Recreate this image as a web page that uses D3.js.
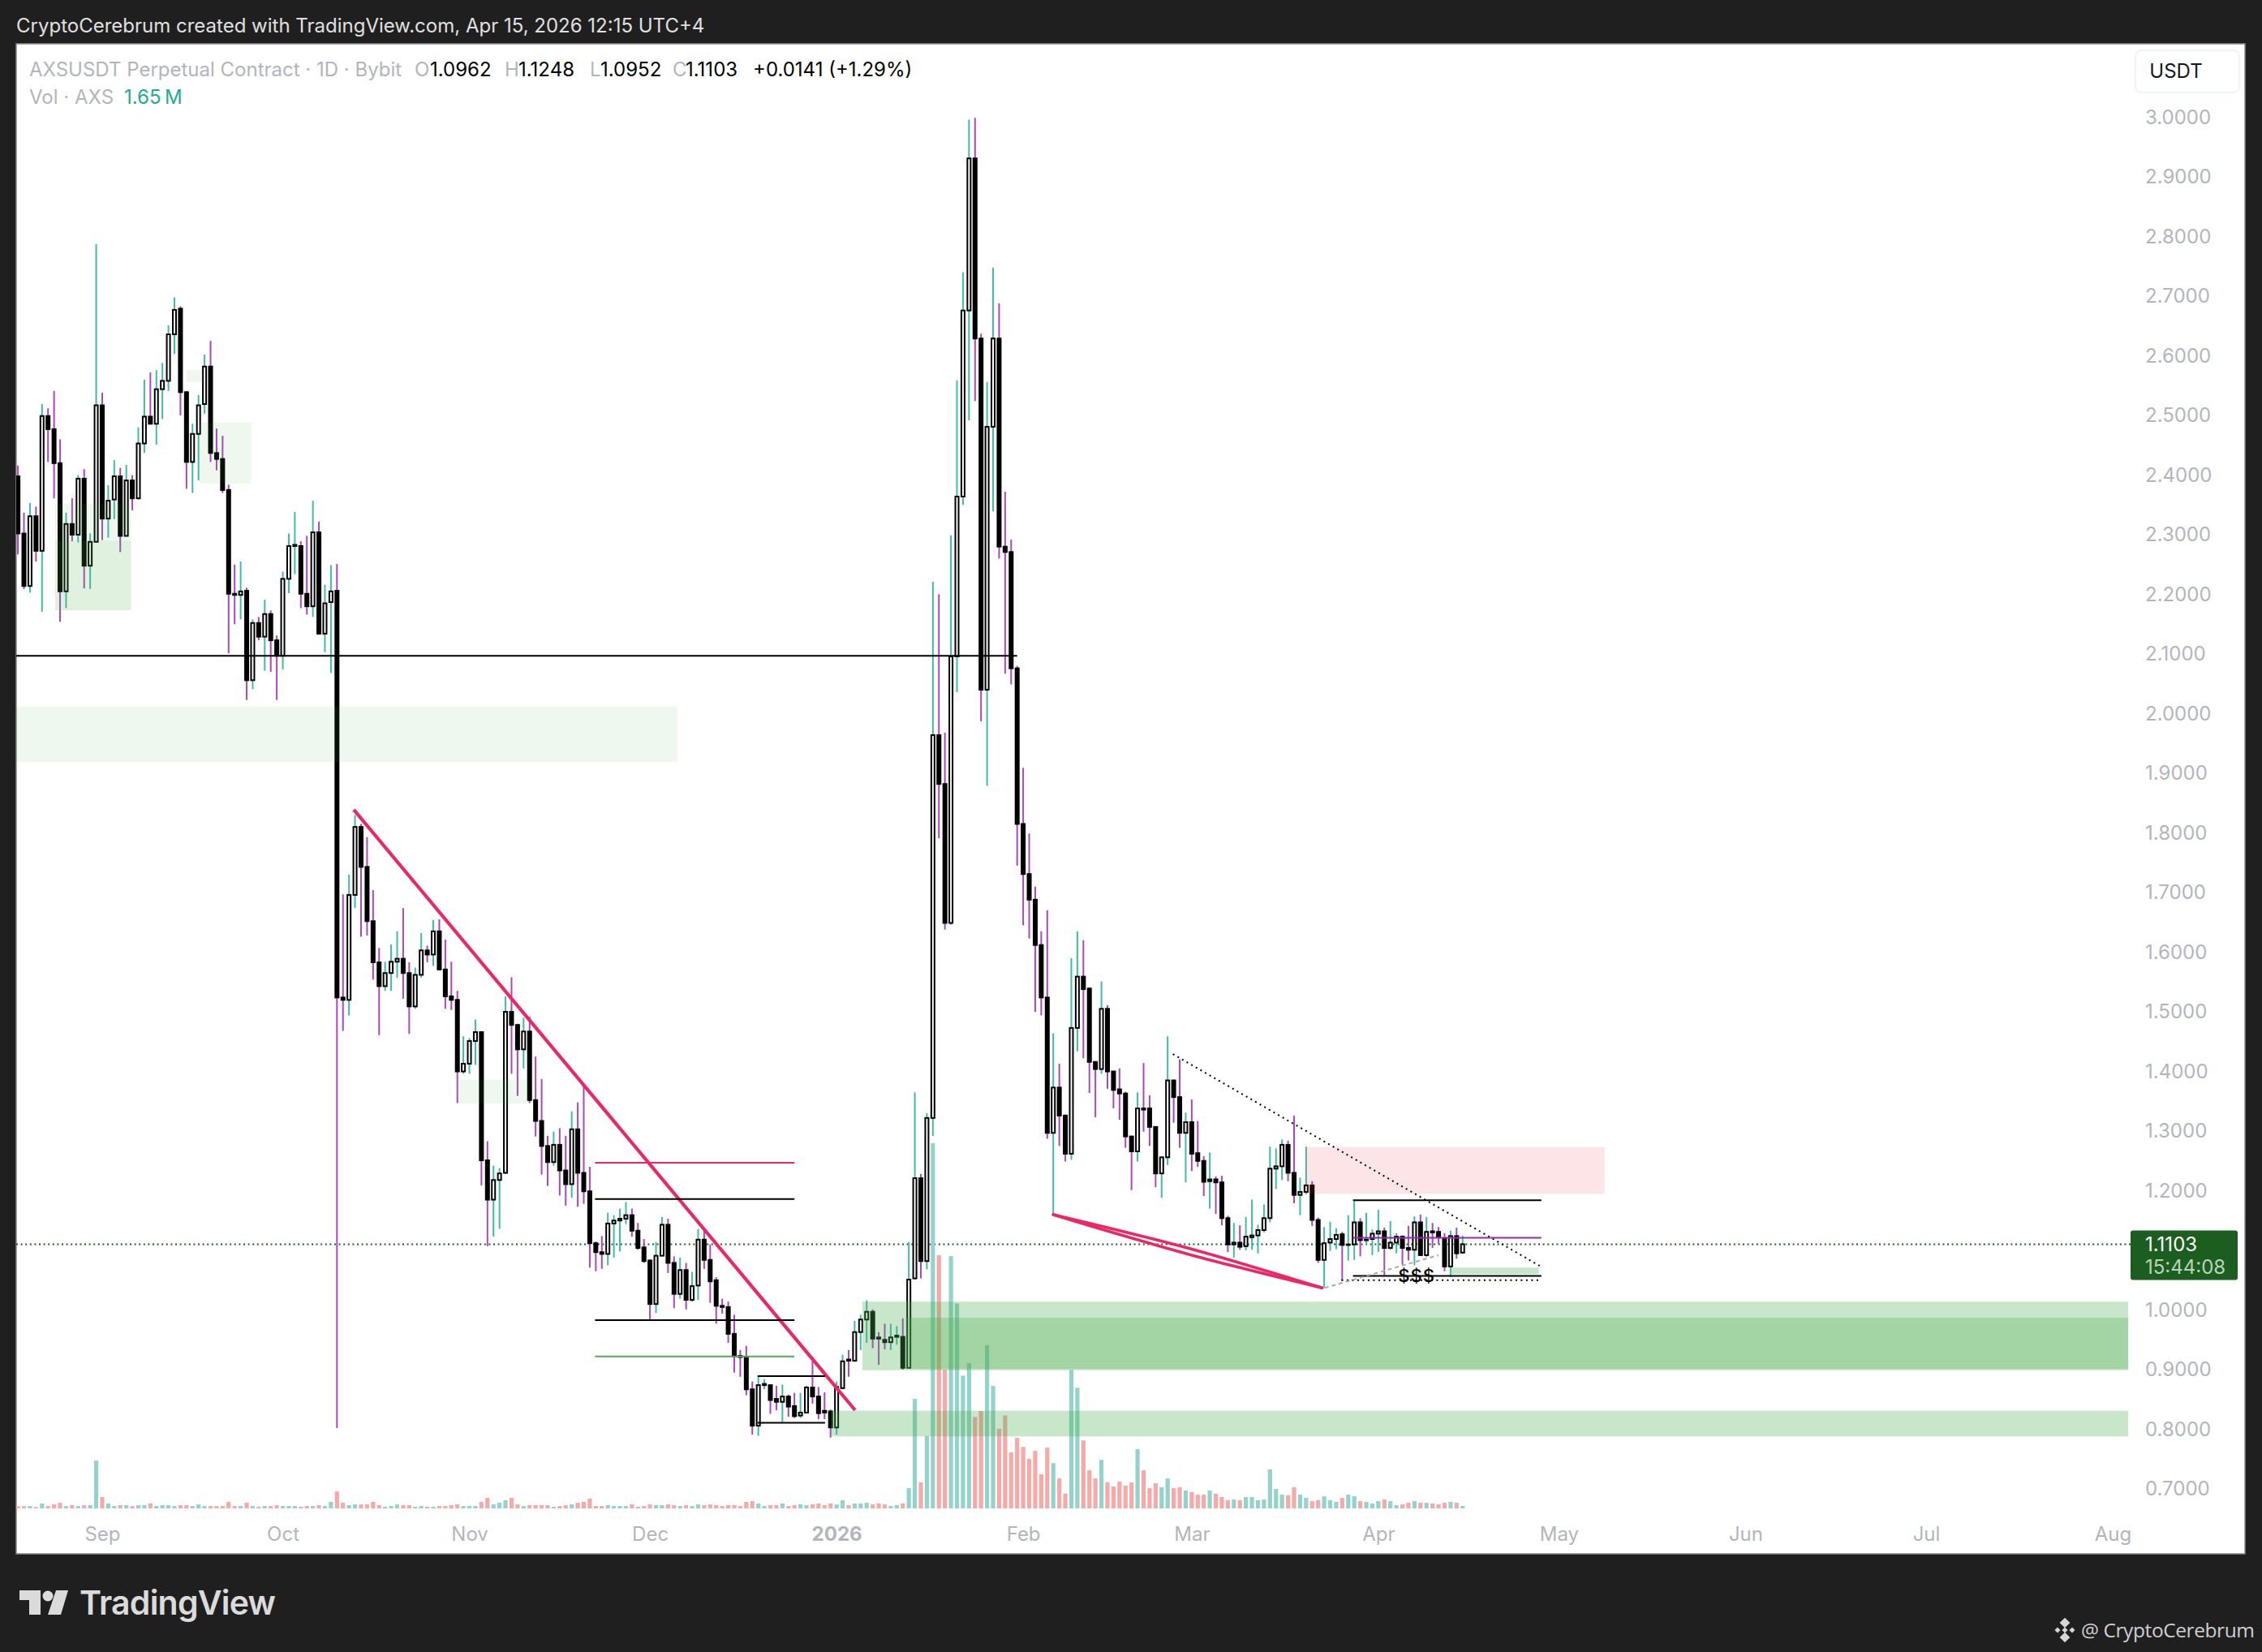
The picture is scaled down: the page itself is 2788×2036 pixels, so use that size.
<!DOCTYPE html>
<html>
<head>
<meta charset="utf-8">
<script src="https://cdn.jsdelivr.net/npm/d3@7/dist/d3.min.js"></script>
<style>
  html, body { margin: 0; padding: 0; background: #1f1f1f; }
  svg { display: block; }
  text { font-family: Inter, "Noto Sans", sans-serif; }
</style>
</head>
<body>
<div class="canvas"></div>
<script>
// daily candles, Aug 18 2025 to Apr 15 2026
const firstDay = new Date(Date.UTC(2025, 7, 18));

const opens = [
  2.398,2.302,2.214,2.331,2.273,2.499,2.477,2.420,2.205,2.318,
  2.300,2.394,2.248,2.288,2.517,2.327,2.359,2.398,2.298,2.391,
  2.361,2.453,2.498,2.486,2.544,2.558,2.636,2.679,2.539,2.422,
  2.469,2.519,2.582,2.437,2.427,2.375,2.201,2.199,2.206,2.056,
  2.152,2.129,2.167,2.123,2.097,2.226,2.281,2.281,2.201,2.180,
  2.304,2.134,2.187,2.206,1.524,1.520,1.696,1.810,1.743,1.652,
  1.583,1.543,1.565,1.584,1.589,1.565,1.509,1.562,1.603,1.596,
  1.635,1.571,1.526,1.520,1.400,1.413,1.451,1.466,1.251,1.185,
  1.218,1.230,1.500,1.478,1.437,1.467,1.352,1.317,1.275,1.248,
  1.277,1.234,1.211,1.303,1.230,1.199,1.112,1.097,1.094,1.145,
  1.150,1.153,1.159,1.133,1.105,1.083,1.010,1.091,1.143,1.079,
  1.027,1.067,1.017,1.041,1.118,1.084,1.050,1.007,1.005,0.960,
  0.923,0.921,0.867,0.806,0.874,0.874,0.851,0.846,0.855,0.839,
  0.823,0.828,0.870,0.855,0.831,0.830,0.803,0.869,0.917,0.915,
  0.963,0.984,0.997,0.954,0.950,0.946,0.955,0.955,0.903,1.053,
  1.221,1.082,1.322,1.964,1.882,1.649,2.096,2.364,2.676,2.931,
  2.629,2.040,2.481,2.629,2.280,2.271,2.076,1.815,1.731,1.688,
  1.612,1.524,1.297,1.373,1.326,1.262,1.473,1.559,1.539,1.416,
  1.404,1.505,1.400,1.370,1.363,1.291,1.266,1.338,1.338,1.307,
  1.229,1.256,1.385,1.357,1.297,1.315,1.263,1.250,1.216,1.219,
  1.214,1.154,1.110,1.113,1.107,1.122,1.125,1.134,1.154,1.237,
  1.241,1.277,1.230,1.193,1.198,1.209,1.151,1.084,1.113,1.119,
  1.127,1.109,1.110,1.147,1.117,1.119,1.128,1.132,1.104,1.113,
  1.123,1.104,1.101,1.147,1.092,1.132,1.131,1.120,1.073,1.124,
  1.0962
];
const highs = [
  2.416,2.337,2.353,2.347,2.519,2.512,2.541,2.460,2.337,2.361,
  2.400,2.410,2.302,2.787,2.538,2.383,2.425,2.412,2.417,2.400,
  2.480,2.560,2.572,2.576,2.588,2.651,2.698,2.683,2.541,2.486,
  2.534,2.602,2.625,2.478,2.466,2.384,2.250,2.255,2.211,2.158,
  2.162,2.191,2.173,2.131,2.238,2.302,2.338,2.289,2.298,2.357,
  2.322,2.216,2.249,2.251,1.697,1.730,1.830,1.815,1.793,1.704,
  1.607,1.584,1.613,1.635,1.674,1.583,1.574,1.632,1.611,1.654,
  1.655,1.621,1.584,1.535,1.459,1.456,1.487,1.467,1.283,1.242,
  1.238,1.526,1.558,1.480,1.490,1.492,1.425,1.387,1.292,1.299,
  1.305,1.292,1.333,1.348,1.379,1.240,1.115,1.124,1.163,1.159,
  1.170,1.181,1.170,1.146,1.119,1.085,1.114,1.156,1.153,1.090,
  1.088,1.079,1.064,1.136,1.133,1.110,1.055,1.019,1.014,0.992,
  0.933,0.940,0.880,0.888,0.884,0.875,0.873,0.875,0.858,0.861,
  0.861,0.873,0.914,0.871,0.862,0.833,0.880,0.925,0.933,0.982,
  0.992,1.016,1.001,0.963,0.977,0.977,0.973,0.986,1.114,1.365,
  1.228,1.330,2.221,2.200,1.968,2.299,2.559,2.740,2.996,2.999,
  2.637,2.556,2.748,2.688,2.372,2.292,2.080,1.909,1.799,1.710,
  1.635,1.670,1.464,1.413,1.328,1.590,1.635,1.620,1.541,1.416,
  1.551,1.511,1.400,1.405,1.366,1.292,1.365,1.414,1.360,1.308,
  1.258,1.459,1.386,1.420,1.331,1.353,1.317,1.258,1.264,1.224,
  1.225,1.158,1.146,1.142,1.156,1.185,1.143,1.177,1.274,1.271,
  1.286,1.284,1.326,1.222,1.274,1.216,1.155,1.139,1.148,1.137,
  1.131,1.159,1.184,1.154,1.163,1.135,1.168,1.138,1.149,1.129,
  1.125,1.141,1.157,1.160,1.156,1.146,1.139,1.129,1.133,1.138,
  1.1248
];
const lows = [
  2.267,2.209,2.203,2.255,2.171,2.422,2.361,2.154,2.177,2.289,
  2.287,2.210,2.209,2.287,2.291,2.295,2.326,2.271,2.297,2.341,
  2.359,2.437,2.485,2.451,2.494,2.541,2.603,2.500,2.377,2.370,
  2.391,2.503,2.422,2.408,2.370,2.101,2.150,2.158,2.023,2.041,
  2.123,2.072,2.070,2.023,2.074,2.202,2.234,2.177,2.166,2.162,
  2.133,2.103,2.068,0.802,1.468,1.494,1.674,1.626,1.628,1.554,
  1.461,1.535,1.535,1.557,1.522,1.463,1.505,1.557,1.583,1.577,
  1.570,1.505,1.503,1.347,1.396,1.396,1.411,1.209,1.107,1.123,
  1.136,1.228,1.396,1.359,1.405,1.347,1.291,1.227,1.208,1.242,
  1.192,1.175,1.188,1.173,1.178,1.071,1.065,1.069,1.075,1.088,
  1.098,1.144,1.123,1.101,1.079,0.984,0.995,1.090,1.062,1.003,
  1.019,1.001,1.014,1.017,1.069,1.012,0.977,0.994,0.945,0.895,
  0.888,0.857,0.791,0.789,0.867,0.826,0.832,0.812,0.821,0.819,
  0.819,0.827,0.843,0.817,0.817,0.786,0.791,0.867,0.888,0.913,
  0.933,0.945,0.936,0.908,0.934,0.933,0.942,0.900,0.902,1.051,
  1.053,1.068,1.292,1.791,1.638,1.646,2.036,2.350,2.492,2.524,
  1.987,1.879,2.339,2.260,2.067,2.049,1.745,1.645,1.623,1.500,
  1.494,1.287,1.161,1.275,1.249,1.252,1.434,1.422,1.364,1.323,
  1.396,1.371,1.338,1.319,1.272,1.201,1.249,1.299,1.275,1.206,
  1.188,1.243,1.314,1.272,1.214,1.233,1.240,1.191,1.170,1.161,
  1.142,1.097,1.088,1.101,1.100,1.101,1.095,1.130,1.147,1.203,
  1.218,1.216,1.179,1.159,1.194,1.141,1.079,1.038,1.099,1.102,
  1.049,1.083,1.084,1.090,1.110,1.092,1.097,1.057,1.101,1.095,
  1.076,1.083,1.075,1.091,1.089,1.104,1.110,1.065,1.055,1.086,
  1.0952
];
const closes = [
  2.302,2.214,2.331,2.273,2.499,2.477,2.420,2.205,2.318,2.300,
  2.394,2.248,2.288,2.517,2.327,2.357,2.398,2.298,2.391,2.361,
  2.453,2.498,2.486,2.544,2.558,2.636,2.677,2.539,2.422,2.469,
  2.517,2.582,2.437,2.427,2.375,2.201,2.199,2.205,2.056,2.152,
  2.129,2.167,2.123,2.097,2.226,2.281,2.283,2.201,2.180,2.304,
  2.134,2.185,2.205,1.524,1.520,1.696,1.810,1.743,1.652,1.583,
  1.543,1.565,1.584,1.589,1.565,1.509,1.562,1.603,1.596,1.635,
  1.571,1.526,1.520,1.400,1.413,1.451,1.466,1.251,1.185,1.218,
  1.229,1.500,1.478,1.437,1.467,1.352,1.317,1.275,1.248,1.277,
  1.234,1.211,1.303,1.230,1.199,1.112,1.097,1.094,1.145,1.150,
  1.153,1.159,1.133,1.104,1.082,1.010,1.091,1.143,1.079,1.027,
  1.067,1.017,1.040,1.118,1.084,1.048,1.007,1.005,0.960,0.922,
  0.921,0.867,0.806,0.874,0.876,0.849,0.846,0.855,0.838,0.822,
  0.828,0.870,0.855,0.827,0.828,0.803,0.871,0.914,0.915,0.963,
  0.984,0.997,0.952,0.952,0.946,0.954,0.957,0.903,1.051,1.221,
  1.082,1.322,1.964,1.882,1.649,2.096,2.364,2.676,2.931,2.629,
  2.040,2.481,2.629,2.280,2.271,2.076,1.815,1.731,1.688,1.612,
  1.524,1.297,1.373,1.326,1.262,1.473,1.559,1.538,1.416,1.404,
  1.505,1.400,1.369,1.363,1.291,1.266,1.338,1.336,1.307,1.229,
  1.256,1.385,1.357,1.297,1.315,1.262,1.250,1.215,1.219,1.214,
  1.154,1.110,1.113,1.106,1.123,1.125,1.134,1.154,1.237,1.241,
  1.277,1.230,1.193,1.198,1.209,1.151,1.084,1.112,1.119,1.126,
  1.109,1.110,1.147,1.117,1.118,1.128,1.132,1.104,1.113,1.123,
  1.104,1.101,1.147,1.092,1.131,1.130,1.122,1.073,1.124,1.095,
  1.1103
];
// volume in millions of AXS
const volumes = [
  1.5,1.5,1.6,0.9,3.3,1.6,2.7,3.8,1.6,2.2,
  1.6,2.2,2.2,32.4,7.7,3.3,1.6,2.2,2.2,1.6,
  2.2,2.2,3.3,1.6,2.2,2.2,1.6,2.2,2.2,1.6,
  2.7,1.6,1.6,1.6,1.6,4.4,1.6,1.6,3.8,1.6,
  1.1,1.6,1.6,2.2,1.6,1.6,1.6,1.1,1.6,1.6,
  2.2,1.6,4.4,11.5,3.8,2.2,2.7,2.7,2.7,4.4,
  2.2,1.1,1.6,2.7,2.2,2.2,1.1,1.6,1.1,1.1,
  1.6,1.6,2.2,2.7,1.6,1.6,1.6,4.4,7.1,2.7,
  3.8,5.5,7.1,2.7,1.6,2.2,2.2,2.2,2.2,1.1,
  1.6,2.2,2.7,3.8,4.4,6.6,1.6,1.6,2.2,1.6,
  1.6,1.6,2.7,1.1,1.6,2.7,2.2,2.2,2.7,2.2,
  1.6,2.2,1.6,2.7,2.2,2.7,2.2,1.6,2.2,2.2,
  1.6,4.4,4.9,3.3,1.6,2.2,2.2,3.3,1.6,2.2,
  2.7,2.2,2.7,3.3,2.2,3.3,2.7,5.5,2.2,3.3,
  3.3,3.8,2.7,3.3,2.7,1.6,2.2,3.3,13.7,74.2,
  17.6,49,247.5,171.6,94,171,139,90,98.5,62,
  66,110.6,83,54,63,37.9,47.8,41.7,33.5,39,
  23.1,41.2,30.7,20.3,9.9,93.9,81.8,46.1,25.8,20.3,
  32.9,17.6,14.8,18.1,15.4,17.6,40.1,25.8,13.7,17,
  14.3,20.3,13.7,14.3,12.1,11,9.3,9.3,12.1,9.9,
  7.7,5.5,6,5.5,7.7,7.7,5.5,6,26.4,13.2,
  9.3,8.8,14.3,9.3,7.1,4.9,5.5,8.2,5.5,4.4,
  7.1,9.3,8.2,4.9,4.4,3.3,4.9,6,4.9,2.2,
  2.7,3.8,4.9,3.8,3.8,3.3,2.7,3.8,4.4,3.8,
  1.65
];

const priceTicks = [3, 2.9, 2.8, 2.7, 2.6, 2.5, 2.4, 2.3, 2.2, 2.1, 2, 1.9, 1.8, 1.7, 1.6, 1.5, 1.4, 1.3, 1.2, 1, 0.9, 0.8, 0.7];
const monthTicks = [
  ['Sep', 2025, 8], ['Oct', 2025, 9], ['Nov', 2025, 10], ['Dec', 2025, 11], ['2026', 2026, 0], ['Feb', 2026, 1],
  ['Mar', 2026, 2], ['Apr', 2026, 3], ['May', 2026, 4], ['Jun', 2026, 5], ['Jul', 2026, 6], ['Aug', 2026, 7]
];
const lastPrice = 1.1103;

// drawings, in bar number and price: [bar1, bar2, priceTop, priceBottom]
const paleZones = [
  [6.2, 18.8, 2.352, 2.173], [6.2, 18.8, 2.290, 2.173], [30.1, 38.8, 2.488, 2.386],
  [28, 30.7, 2.576, 2.556], [-1, 109.6, 2.012, 1.919], [73, 84.9, 1.386, 1.346]
];
const greenZones = [
  [140.3, 350.6, 1.014, 0.899], [147.5, 350.6, 0.987, 0.901],
  [135.1, 350.6, 0.831, 0.788], [238.1, 252.7, 1.071, 1.060]
];
const redZones = [[213.9, 263.6, 1.273, 1.195]];
// [bar1, price1, bar2, price2, colour, width, dash]
const segments = [
  [-1, 2.097, 166, 2.097, '#000', 2, null],
  [55.8, 1.839, 139.1, 0.832, '#ec2766', 4.2, null],
  [95.9, 1.247, 129, 1.247, '#ec2766', 2, null],
  [95.9, 1.186, 129, 1.186, '#000', 2, null],
  [95.9, 0.983, 129, 0.983, '#000', 2, null],
  [95.9, 0.922, 129, 0.922, '#4caf50', 2, null],
  [122.9, 0.889, 134.1, 0.889, '#000', 2, null],
  [122.9, 0.811, 134.1, 0.811, '#000', 2, null],
  [191.9, 1.429, 252.8, 1.074, '#000', 2, '2 4.5'],
  [221.8, 1.184, 253.1, 1.184, '#000', 2, null],
  [221.8, 1.121, 253.1, 1.121, '#9c27b0', 2, null],
  [221.8, 1.057, 253.1, 1.057, '#000', 2, null],
  [219.9, 1.050, 252.8, 1.050, '#000', 2, '2 4.5'],
  [217.1, 1.037, 236, 1.092, '#aaa', 2, '5 4']
];
// the thick wedge drawn by hand: two strokes with the same ends
const wedgeTop = [[172, 1.160], [194.3, 1.104], [216.7, 1.037]];
const wedgeBottom = [[172, 1.160], [194.3, 1.094], [216.7, 1.037]];

const dims = { width: 2788, height: 2036 };
const panel = { left: 20, top: 54, right: 2767, bottom: 1915, chartRight: 2626 };
const upColor = '#3fbca6';
const downColor = '#ab47bc';
const labelColor = '#b2b5be';

const svg = d3.select('.canvas')
  .append('svg')
  .attr('width', dims.width)
  .attr('height', dims.height);

const x = d3.scaleUtc()
  .domain([firstDay, new Date(Date.UTC(2026, 7, 1))])
  .range([22.1, 2604]);
const y = d3.scaleLinear()
  .domain([0.7, 3])
  .range([1835, 144.5]);
const yVol = d3.scaleLinear()
  .domain([0, 247.5])
  .range([1859, 1409]);

const barX = i => x(d3.utcHour.offset(firstDay, i * 24));

const candles = opens.map((o, i) => ({ i, o, h: highs[i], l: lows[i], c: closes[i], v: volumes[i], up: closes[i] >= o }));

// panel
svg.append('rect')
  .attr('x', panel.left).attr('y', panel.top)
  .attr('width', panel.right - panel.left).attr('height', panel.bottom - panel.top)
  .attr('fill', '#fff').attr('stroke', '#8a8a8a').attr('stroke-width', 1.5);

svg.append('clipPath').attr('id', 'plot')
  .append('rect')
  .attr('x', panel.left).attr('y', panel.top)
  .attr('width', panel.chartRight - panel.left).attr('height', panel.bottom - panel.top);

const graph = svg.append('g').attr('clip-path', 'url(#plot)');

// last price line
graph.append('line')
  .attr('x1', panel.left).attr('x2', panel.chartRight)
  .attr('y1', y(lastPrice)).attr('y2', y(lastPrice))
  .attr('stroke', '#1b5e20').attr('stroke-width', 2).attr('stroke-dasharray', '2 3.6');

// volume
graph.selectAll('rect.vol')
  .data(candles)
  .enter().append('rect')
    .attr('class', 'vol')
    .attr('x', d => barX(d.i) - 2.6)
    .attr('width', 5.2)
    .attr('y', d => yVol(d.v))
    .attr('height', d => yVol(0) - yVol(d.v))
    .attr('fill', d => d.up ? '#94d3cb' : '#f7a9a7');

// candles
graph.selectAll('line.wick')
  .data(candles)
  .enter().append('line')
    .attr('class', 'wick')
    .attr('x1', d => barX(d.i)).attr('x2', d => barX(d.i))
    .attr('y1', d => y(d.h)).attr('y2', d => y(d.l))
    .attr('stroke', d => d.up ? upColor : downColor)
    .attr('stroke-width', 2);

graph.selectAll('rect.body')
  .data(candles)
  .enter().append('rect')
    .attr('class', 'body')
    .attr('x', d => barX(d.i) - 2)
    .attr('width', 4)
    .attr('y', d => y(Math.max(d.o, d.c)))
    .attr('height', d => Math.abs(y(d.o) - y(d.c)))
    .attr('fill', d => d.up ? '#fff' : '#000')
    .attr('stroke', '#000')
    .attr('stroke-width', 2);

// zones lie over the candles
const drawZones = (zones, fill) => {
  graph.selectAll(null)
    .data(zones)
    .enter().append('rect')
      .attr('x', d => barX(d[0]))
      .attr('width', d => barX(d[1]) - barX(d[0]))
      .attr('y', d => y(d[2]))
      .attr('height', d => y(d[3]) - y(d[2]))
      .attr('fill', fill);
};
drawZones(paleZones, 'rgba(76,175,80,0.09)');
drawZones(greenZones, 'rgba(76,175,80,0.31)');
drawZones(redZones, 'rgba(242,54,69,0.13)');

graph.selectAll('line.seg')
  .data(segments)
  .enter().append('line')
    .attr('class', 'seg')
    .attr('x1', d => barX(d[0])).attr('y1', d => y(d[1]))
    .attr('x2', d => barX(d[2])).attr('y2', d => y(d[3]))
    .attr('stroke', d => d[4])
    .attr('stroke-width', d => d[5])
    .attr('stroke-dasharray', d => d[6]);

const wedgeLine = d3.line()
  .x(d => barX(d[0]))
  .y(d => y(d[1]))
  .curve(d3.curveNatural);
graph.selectAll('path.wedge')
  .data([wedgeTop, wedgeBottom])
  .enter().append('path')
    .attr('class', 'wedge')
    .attr('d', wedgeLine)
    .attr('fill', 'none')
    .attr('stroke', '#ec2766')
    .attr('stroke-width', 3.6)
    .attr('stroke-linecap', 'round');

graph.append('text')
  .attr('x', barX(232.4)).attr('y', y(1.047))
  .attr('text-anchor', 'middle')
  .attr('font-size', 22)
  .attr('font-weight', 500)
  .attr('letter-spacing', 1)
  .attr('fill', '#000')
  .text('$$$');

// axes
const yAxis = d3.axisRight(y).tickValues(priceTicks).tickFormat(d3.format('.4f')).tickSize(0).tickPadding(0);
svg.append('g')
  .attr('transform', 'translate(2644, 0)')
  .call(yAxis)
  .call(g => g.select('.domain').remove())
  .call(g => g.selectAll('text')
    .style('font-family', 'Inter')
    .attr('font-size', 24)
    .attr('fill', labelColor));

const monthDates = monthTicks.map(d => new Date(Date.UTC(d[1], d[2], 1)));
const xAxis = d3.axisBottom(x)
  .tickValues(monthDates)
  .tickFormat((d, i) => monthTicks[i][0])
  .tickSize(0).tickPadding(0);
svg.append('g')
  .attr('transform', 'translate(0, 1882)')
  .call(xAxis)
  .call(g => g.select('.domain').remove())
  .call(g => g.selectAll('text')
    .style('font-family', 'Inter')
    .attr('font-size', 24)
    .attr('font-weight', (d, i) => monthTicks[i][0] === '2026' ? 700 : 400)
    .attr('fill', labelColor));

// last price tag
svg.append('rect')
  .attr('x', panel.chartRight).attr('y', y(lastPrice) - 17)
  .attr('width', 132).attr('height', 61)
  .attr('rx', 3)
  .attr('fill', '#1b5e20');
svg.append('text')
  .attr('x', 2644).attr('y', y(lastPrice) + 8.5)
  .attr('font-size', 24).attr('fill', '#fff')
  .text(d3.format('.4f')(lastPrice));
svg.append('text')
  .attr('x', 2644).attr('y', y(lastPrice) + 37)
  .attr('font-size', 24).attr('fill', '#b9d3bb')
  .text('15:44:08');

// header and legend
svg.append('text')
  .attr('x', 20).attr('y', 40)
  .attr('font-size', 24).attr('fill', '#e0e0e0')
  .text('CryptoCerebrum created with TradingView.com, Apr 15, 2026 12:15 UTC+4');

const legendParts = [
  [36, 'AXSUSDT Perpetual Contract · 1D · Bybit', labelColor],
  [511, 'O', labelColor], [530, '1.0962', '#000'],
  [622, 'H', labelColor], [639, '1.1248', '#000'],
  [727, 'L', labelColor], [740, '1.0952', '#000'],
  [829, 'C', labelColor], [845, '1.1103', '#000'],
  [928, '+0.0141 (+1.29%)', '#000']
];
svg.selectAll('text.legend')
  .data(legendParts)
  .enter().append('text')
    .attr('class', 'legend')
    .attr('x', d => d[0]).attr('y', 94)
    .attr('font-size', 24)
    .attr('fill', d => d[2])
    .text(d => d[1]);
svg.append('text')
  .attr('x', 36).attr('y', 128)
  .attr('font-size', 24).attr('fill', labelColor)
  .text('Vol · AXS');
svg.append('text')
  .attr('x', 153).attr('y', 128)
  .attr('font-size', 24).attr('fill', '#22ab94')
  .text('1.65\u2009M');

svg.append('rect')
  .attr('x', 2632).attr('y', 62)
  .attr('width', 128).attr('height', 52)
  .attr('rx', 7)
  .attr('fill', '#fff').attr('stroke', '#eaf3ea').attr('stroke-width', 1.5);
svg.append('text')
  .attr('x', 2682).attr('y', 96)
  .attr('text-anchor', 'middle')
  .attr('font-size', 24).attr('fill', '#131722')
  .text('USDT');

// footer
const logo = svg.append('g').attr('fill', '#dbdbdc');
logo.append('path').attr('d', 'M24 1960H50V1990H36V1972H24Z');
logo.append('circle').attr('cx', 59).attr('cy', 1967).attr('r', 6.5);
logo.append('path').attr('d', 'M84 1960L75 1990H59L69 1960Z');
svg.append('text')
  .attr('x', 98).attr('y', 1990)
  .attr('font-size', 41).attr('font-weight', 600).attr('fill', '#dbdbdc')
  .attr('textLength', 242)
  .text('TradingView');

const coin = svg.append('g').attr('fill', '#d6d6d6').attr('transform', 'translate(2545, 2009)');
[[0, -9, 4.5], [-9, 0, 2.5], [9, 0, 2.5], [0, 0, 2.5], [0, 9, 4.5]].forEach(d => {
  coin.append('rect')
    .attr('x', -d[2]).attr('y', -d[2])
    .attr('width', d[2] * 2).attr('height', d[2] * 2)
    .attr('transform', `translate(${d[0]}, ${d[1]}) rotate(45)`);
});
svg.append('text')
  .attr('x', 2565).attr('y', 2018)
  .style('font-family', '"Open Sans"')
  .attr('font-size', 24.5).attr('fill', '#cfcfcf')
  .attr('textLength', 214)
  .text('@ CryptoCerebrum');
</script>
</body>
</html>
